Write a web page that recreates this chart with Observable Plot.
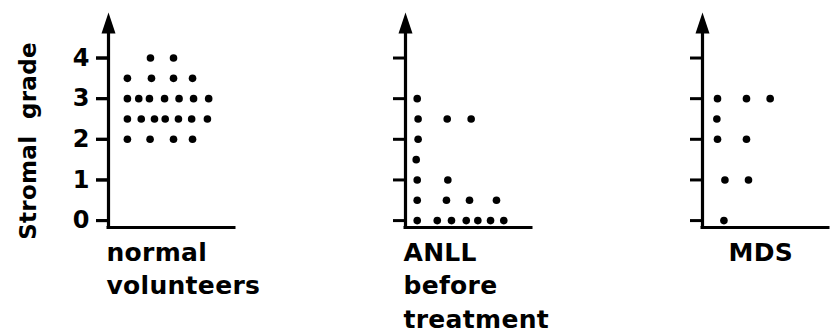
<!DOCTYPE html>
<html><head><meta charset="utf-8">
<script src="https://cdn.jsdelivr.net/npm/d3@7"></script>
<script src="https://cdn.jsdelivr.net/npm/@observablehq/plot@0.6"></script>
<style>
body{margin:0;background:#fff}
#chart svg text{font-weight:bold;letter-spacing:0.3px}
#chart g[aria-label="y-axis tick label"] text{letter-spacing:0;font-size:24px}
</style></head><body><div id="chart"></div>
<script>
// Groups and their (multi-line) labels
const groups = ["normal", "ANLL", "MDS"];
const groupLabels = ["normal\nvolunteers", "ANLL\nbefore\ntreatment", "MDS"];
const labelX = [-0.16, -0.16, 2.06];
const yTitle = "Stromal\u00a0\u00a0grade";
const gradeTicks = [0, 1, 2, 3, 4];

// normal volunteers
const normalY = [4, 4, 3.5, 3.5, 3.5, 3.5, 3, 3, 3, 3, 3, 3, 3, 2.5, 2.5, 2.5, 2.5, 2.5, 2.5, 2.5, 2, 2, 2, 2];
const normalX = [3.33, 5.16, 1.5, 3.41, 5.16, 6.67, 1.5, 2.4, 3.25, 4.45, 5.6, 6.75, 7.95, 1.5, 2.6, 3.65, 4.5, 5.55, 6.6, 7.85, 1.5, 3.3, 5.16, 6.67];

// ANLL before treatment
const anllY = [3, 2.5, 2.5, 2.5, 2, 1.5, 1, 1, 0.5, 0.5, 0.5, 0.5, 0, 0, 0, 0, 0, 0, 0];
const anllX = [0.93, 1.0, 3.31, 5.21, 1.0, 0.85, 0.93, 3.36, 0.93, 3.25, 5.08, 7.22, 0.93, 2.52, 3.65, 4.82, 5.74, 6.75, 7.8];

// MDS
const mdsY = [3, 3, 3, 2.5, 2, 2, 1, 1, 0];
const mdsX = [1.19, 3.49, 5.37, 1.14, 1.19, 3.49, 1.78, 3.65, 1.7];

const yMin = -0.17, yTop = 5.12;

const dots = [
  ...normalX.map((x, i) => ({g: "normal", x, y: normalY[i]})),
  ...anllX.map((x, i) => ({g: "ANLL", x, y: anllY[i]})),
  ...mdsX.map((x, i) => ({g: "MDS", x, y: mdsY[i]}))
];

const arrowHead = {draw(ctx) { ctx.moveTo(0, 0); ctx.lineTo(7, 21); ctx.lineTo(-7, 21); ctx.closePath(); }};

const plot = Plot.plot({
  width: 830, height: 335,
  marginLeft: 107, marginRight: 1, marginTop: 12, marginBottom: 108,
  style: {fontFamily: "DejaVu Sans", fontSize: "22px", color: "#000", background: "#fff", overflow: "visible"},
  fx: {domain: groups, paddingInner: 0.577, paddingOuter: 0, axis: null},
  x: {domain: [0, 10], axis: null},
  y: {domain: [yMin, yTop]},
  marks: [
    Plot.ruleY([yMin], {strokeWidth: 3, strokeLinecap: "square"}),
    Plot.ruleX([0], {y1: yMin, y2: yTop - 0.4, strokeWidth: 3.2}),
    Plot.dot([yTop], {x: 0, y: d => d, symbol: arrowHead, fill: "#000", stroke: null, r: 5}),
    Plot.axisY({ticks: gradeTicks, tickSize: 12, strokeWidth: 3, tickFormat: () => "", facetAnchor: null, label: null}),
    Plot.axisY({ticks: gradeTicks, tickSize: 12, strokeWidth: 3, tickPadding: 7, fontSize: 24, tickFormat: "d", label: null}),
    Plot.dot(dots, {fx: "g", x: "x", y: "y", r: 3.8, fill: "#000"}),
    Plot.text([{g: "normal", t: yTitle}], {fx: "g", text: "t", frameAnchor: "left", rotate: -90, dx: -73, dy: 21, textAnchor: "middle", lineAnchor: "bottom", fontSize: 23}),
    Plot.text(groups.map((g, i) => ({g, t: groupLabels[i], x: labelX[i]})), {fx: "g", x: "x", text: "t", frameAnchor: "bottom", textAnchor: "start", lineAnchor: "top", lineHeight: 1.33, dy: 10, fontSize: 25})
  ]
});
document.getElementById("chart").appendChild(plot);
</script></body></html>
